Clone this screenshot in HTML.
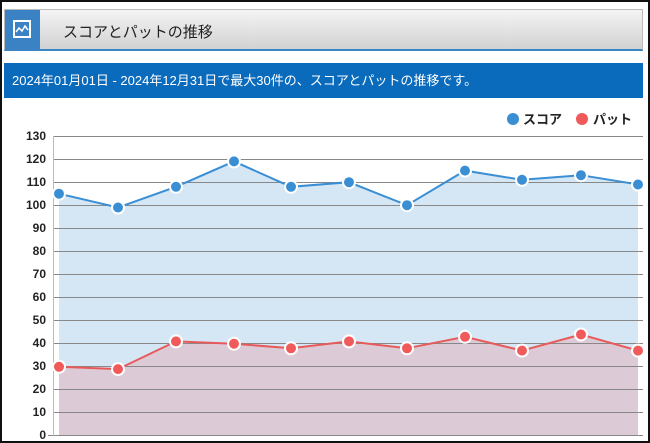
<!DOCTYPE html>
<html><head><meta charset="utf-8"><style>
body{margin:0;width:650px;height:443px;overflow:hidden;background:#fff;font-family:"Liberation Sans","Noto Sans CJK JP",sans-serif}
.frame{position:absolute;left:0;top:0;width:646px;height:439px;border:2px solid #111}
.hdr{position:absolute;left:4px;top:9px;width:639px;height:42px;background:linear-gradient(#f4f4f4,#d2d2d2);border:1px solid #bbb;border-bottom:2px solid #3a86c4;box-sizing:border-box}
.ico{position:absolute;left:0;top:0;width:35px;height:40px;background:#3b82c4}
.ico div{position:absolute;left:8px;top:10px;width:18px;height:18px;border:2px solid #fff;box-sizing:border-box}
.ttl{position:absolute;left:58px;top:11px;font-size:15px;color:#222}
.ban{position:absolute;left:4px;top:63px;width:639px;height:35px;background:#0a6bbd;color:#fff;font-size:13px;line-height:35px;padding-left:8px;box-sizing:border-box}
</style></head><body>
<div class="frame"></div>
<div class="hdr"><div class="ico"><div><svg width="14" height="14" style="position:absolute;left:0;top:0"><polyline points="1,10 4,6 7,9 10,4 13,8" fill="none" stroke="#fff" stroke-width="1.5"/></svg></div></div><div class="ttl">スコアとパットの推移</div></div>
<div class="ban">2024年01月01日 - 2024年12月31日で最大30件の、スコアとパットの推移です。</div>
<svg width="650" height="443" style="position:absolute;left:0;top:0">
<g font-family="Liberation Sans, Noto Sans CJK JP, sans-serif" font-weight="bold" font-size="12" fill="#222">
<circle cx="513" cy="119" r="6" fill="#3a8fd4"/><text x="523" y="124" font-size="13">スコア</text>
<circle cx="582" cy="119" r="6" fill="#f05a5a"/><text x="593" y="124" font-size="13">パット</text>
</g>
<polygon fill="#d5e7f5" points="59,436 59,193.7 118,207.5 176,186.8 234,161.4 291,186.8 349,182.2 407,205.2 465,170.6 522,179.8 581,175.2 638,184.5 638,436"/>
<polygon fill="#dccbd7" points="59,436 59,366.8 118,369.1 176,341.4 234,343.7 291,348.3 349,341.4 407,348.3 465,336.8 522,350.6 581,334.5 638,350.6 638,436"/>
<g stroke="#888" stroke-width="1">
<line x1="54" x2="643" y1="136.5" y2="136.5"/><line x1="54" x2="643" y1="159.5" y2="159.5"/><line x1="54" x2="643" y1="182.5" y2="182.5"/><line x1="54" x2="643" y1="205.5" y2="205.5"/><line x1="54" x2="643" y1="228.5" y2="228.5"/><line x1="54" x2="643" y1="251.5" y2="251.5"/><line x1="54" x2="643" y1="274.5" y2="274.5"/><line x1="54" x2="643" y1="297.5" y2="297.5"/><line x1="54" x2="643" y1="320.5" y2="320.5"/><line x1="54" x2="643" y1="343.5" y2="343.5"/><line x1="54" x2="643" y1="366.5" y2="366.5"/><line x1="54" x2="643" y1="389.5" y2="389.5"/><line x1="54" x2="643" y1="412.5" y2="412.5"/><line x1="48" x2="643" y1="435.5" y2="435.5"/>
<line x1="53.5" x2="53.5" y1="136" y2="436" stroke="#bbb"/>
</g>
<g font-family="Liberation Sans, sans-serif" font-weight="bold" font-size="12" fill="#222" text-anchor="end">
<text x="46" y="140">130</text><text x="46" y="163">120</text><text x="46" y="186">110</text><text x="46" y="209">100</text><text x="46" y="232">90</text><text x="46" y="255">80</text><text x="46" y="278">70</text><text x="46" y="301">60</text><text x="46" y="324">50</text><text x="46" y="347">40</text><text x="46" y="370">30</text><text x="46" y="393">20</text><text x="46" y="416">10</text><text x="46" y="439">0</text>
</g>
<polyline fill="none" stroke="#3a8fd4" stroke-width="2" points="59,193.7 118,207.5 176,186.8 234,161.4 291,186.8 349,182.2 407,205.2 465,170.6 522,179.8 581,175.2 638,184.5"/>
<polyline fill="none" stroke="#e85a5a" stroke-width="2" points="59,366.8 118,369.1 176,341.4 234,343.7 291,348.3 349,341.4 407,348.3 465,336.8 522,350.6 581,334.5 638,350.6"/>
<g fill="#3a8fd4" stroke="#fff" stroke-width="2">
<circle cx="59" cy="193.7" r="6"/><circle cx="118" cy="207.5" r="6"/><circle cx="176" cy="186.8" r="6"/><circle cx="234" cy="161.4" r="6"/><circle cx="291" cy="186.8" r="6"/><circle cx="349" cy="182.2" r="6"/><circle cx="407" cy="205.2" r="6"/><circle cx="465" cy="170.6" r="6"/><circle cx="522" cy="179.8" r="6"/><circle cx="581" cy="175.2" r="6"/><circle cx="638" cy="184.5" r="6"/>
</g>
<g fill="#f05a5a" stroke="#fff" stroke-width="2">
<circle cx="59" cy="366.8" r="6"/><circle cx="118" cy="369.1" r="6"/><circle cx="176" cy="341.4" r="6"/><circle cx="234" cy="343.7" r="6"/><circle cx="291" cy="348.3" r="6"/><circle cx="349" cy="341.4" r="6"/><circle cx="407" cy="348.3" r="6"/><circle cx="465" cy="336.8" r="6"/><circle cx="522" cy="350.6" r="6"/><circle cx="581" cy="334.5" r="6"/><circle cx="638" cy="350.6" r="6"/>
</g>
</svg>
</body></html>
